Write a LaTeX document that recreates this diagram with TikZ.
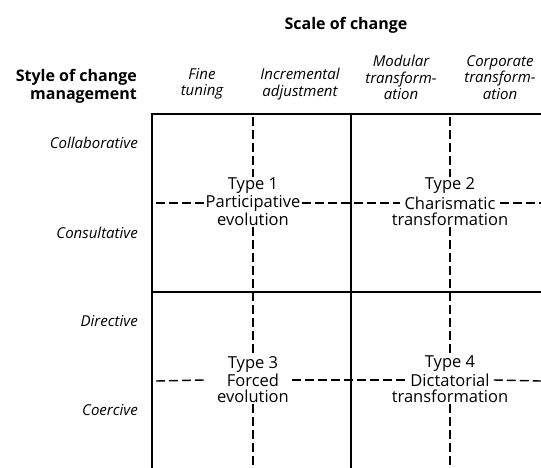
\documentclass[tikz,border=0pt]{standalone}
\usepackage{fontspec}
\setmainfont{Open Sans}
\usetikzlibrary{calc}
\begin{document}
\begin{tikzpicture}[x=1pt,y=-1pt,
  gridline/.style={line width=1.3pt, line cap=rect},
  dashln/.style={line width=1.4pt, dash pattern=on 9pt off 4pt},
  hdr/.style={font=\fontsize{16}{18}\selectfont\bfseries, align=right, inner sep=0pt},
  colhdr/.style={font=\fontsize{15}{16.5}\selectfont\itshape, align=center, inner sep=0pt},
  rowhdr/.style={font=\fontsize{15}{17}\selectfont\itshape, anchor=east, inner sep=0pt},
  typetxt/.style={font=\fontsize{16.5}{18}\selectfont, inner sep=1pt},
  gaptxt/.style={typetxt, inner xsep=4pt}]
\useasboundingbox (0,0) rectangle (541,467);

% grid
\coordinate (tl) at (152,114);
\coordinate (tr) at (541,114);
\coordinate (bl) at (152,467);
\coordinate (tm) at (351,114);
\coordinate (bm) at (351,467);
\coordinate (ml) at (152,292);
\coordinate (mr) at (541,292);
\draw[gridline] (tr) -- (tl) -- (bl);
\draw[gridline] (tm) -- (bm);
\draw[gridline] (ml) -- (mr);

% headers
\node[hdr, anchor=center] (scale) at (346,25) {Scale of change};
\node[hdr, anchor=east] (style) at (137,86) {Style of change\\management};
\node[colhdr] (fine) at (202,84) {Fine\\tuning};
\node[colhdr] (incr) at (300,84) {Incremental\\adjustment};
\node[colhdr] (modu) at (401,77.5) {Modular\\transform-\\ation};
\node[colhdr] (corp) at (500,77.5) {Corporate\\transform-\\ation};

% row labels
\node[rowhdr] (collab) at (138,143) {Collaborative};
\node[rowhdr] (consult) at (138,233) {Consultative};
\node[rowhdr] (direct) at (138,321) {Directive};
\node[rowhdr] (coerc) at (138,410) {Coercive};

% type labels
\node[typetxt] (t1a) at (253,186) {Type 1};
\node[typetxt] (t1b) at (253,203) {Participative};
\node[typetxt] (t1c) at (253,219) {evolution};
\node[typetxt] (t2a) at (450,186) {Type 2};
\node[gaptxt] (t2b) at (450,203) {Charismatic};
\node[typetxt] (t2c) at (450,219) {transformation};
\node[typetxt] (t3a) at (253,364) {Type 3};
\node[typetxt] (t3b) at (253,380) {Forced};
\node[typetxt] (t3c) at (253,396) {evolution};
\node[typetxt] (t4a) at (450,364) {Type 4};
\node[gaptxt] (t4b) at (450,380) {Dictatorial};
\node[typetxt] (t4c) at (450,396) {transformation};

% dashed end points
\coordinate (v1t) at (253,117);
\coordinate (v1b) at (253,467);
\coordinate (v2t) at (450,117);
\coordinate (v2b) at (450,467);
\coordinate (h1l) at (156,203);
\coordinate (h1r) at (541,203);
\coordinate (h3l) at (156,381);
\coordinate (h3r) at (541,381);

% vertical dashed lines
\draw[dashln] (v1t) -- (t1a.north);
\draw[dashln] (t1c.south) -- (t3a.north);
\draw[dashln] (t3c.south) -- (v1b);
\draw[dashln] (v2t) -- (t2a.north);
\draw[dashln] (t2c.south) -- (t4a.north);
\draw[dashln] (t4c.south) -- (v2b);

% horizontal dashed lines
\draw[dashln] (h1l) -- (t1b.west);
\draw[dashln] (t1b.east) -- (t2b.west);
\draw[dashln] (t2b.east) -- (h1r);
\draw[dashln] (h3l) -- ($(t3b.west)+(-22,0)$);
\draw[dashln] ($(t3b.east)+(12,0)$) -- (t4b.west);
\draw[dashln] (t4b.east) -- (h3r);
\end{tikzpicture}
\end{document}
